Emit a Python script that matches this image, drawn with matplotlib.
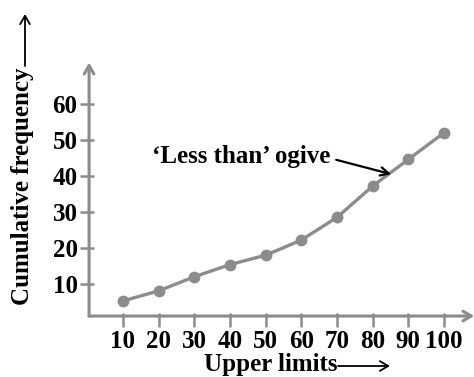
import matplotlib
matplotlib.use("Agg")
import matplotlib.pyplot as plt

upper_limits = [10, 20, 30, 40, 50, 60, 70, 80, 90, 100]
cum_freq = [5.3, 8.1, 12, 15.4, 18, 22.2, 28.5, 37.2, 44.6, 52]
y_ticks = [10, 20, 30, 40, 50, 60]

W, H = 474, 377
gray = "#8c8c8c"
plt.rcParams["font.family"] = "Liberation Serif"
plt.rcParams["font.weight"] = "bold"

fig = plt.figure(figsize=(W / 100, H / 100), dpi=100)
# axes placed so that data (0,0) sits at pixel (87.3, 320)
ax = fig.add_axes([87.3 / W, (H - 320) / H, 385.2 / W, 259.2 / H])
ax.set_xlim(0, 108)
ax.set_ylim(0, 72)
for s in ax.spines.values():
    s.set_visible(False)

# axis lines with open arrowheads
ax.annotate("", xy=(0.5, 71.5), xytext=(0.5, 1.1),
            arrowprops=dict(arrowstyle="->,head_length=0.6,head_width=0.35", color=gray, lw=2.2,
                            shrinkA=0, shrinkB=0),
            annotation_clip=False)
ax.annotate("", xy=(108.5, 1.1), xytext=(0.5, 1.1),
            arrowprops=dict(arrowstyle="->,head_length=0.6,head_width=0.35", color=gray, lw=2.2,
                            shrinkA=0, shrinkB=0),
            annotation_clip=False)

ax.plot(upper_limits, cum_freq, color=gray, lw=2.4, marker="o", ms=7.5, clip_on=False)

ax.set_xticks(upper_limits)
ax.set_yticks(y_ticks)
ax.tick_params(axis="both", direction="inout", length=10, width=1.8, color=gray,
               labelsize=18, pad=2)
for lab in ax.get_xticklabels() + ax.get_yticklabels():
    lab.set_fontweight("bold")

# annotation
ax.annotate("", xy=(85.2, 40.5), xytext=(69.8, 44.5),
            arrowprops=dict(arrowstyle="->,head_length=0.6,head_width=0.3", color="black", lw=1.6,
                            shrinkA=0, shrinkB=0))
fig.text(241 / W, 1 - 157 / H, "\u2018Less than\u2019 ogive", ha="center", va="center",
         fontsize=18, fontweight="bold")

# axis labels with arrows
fig.text(271 / W, 1 - 365 / H, "Upper limits", ha="center", va="center",
         fontsize=18, fontweight="bold")
fig.add_artist(matplotlib.patches.FancyArrowPatch(
    (338 / W, 1 - 366 / H), (390 / W, 1 - 366 / H), transform=fig.transFigure,
    arrowstyle="->,head_length=6,head_width=3.5", color="black", lw=1.3,
    shrinkA=0, shrinkB=0))

fig.text(23 / W, 1 - 186 / H, "Cumulative frequency", ha="center", va="center",
         rotation=90, fontsize=18, fontweight="bold")
fig.add_artist(matplotlib.patches.FancyArrowPatch(
    (25 / W, 1 - 66 / H), (25 / W, 1 - 14 / H), transform=fig.transFigure,
    arrowstyle="->,head_length=6,head_width=3.5", color="black", lw=1.3,
    shrinkA=0, shrinkB=0))

fig.savefig("out.png", dpi=100)
